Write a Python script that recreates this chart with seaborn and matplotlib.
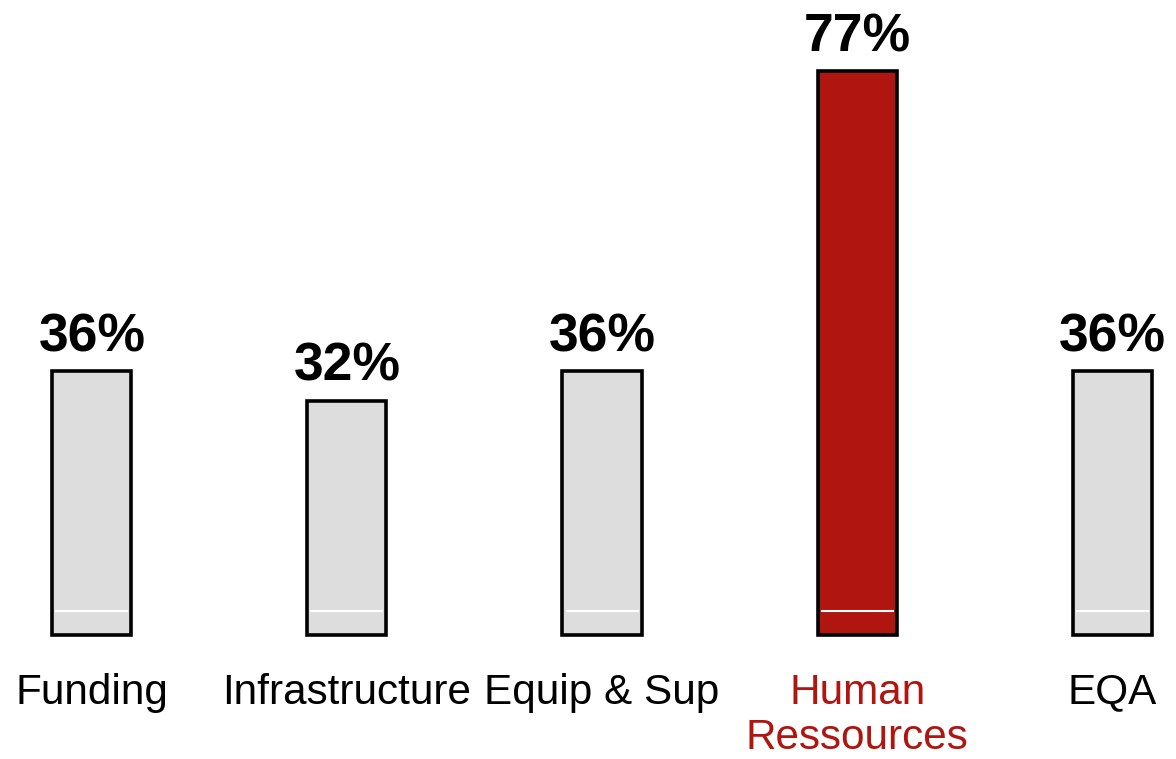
import matplotlib
matplotlib.use("Agg")
import matplotlib.pyplot as plt
import seaborn as sns
import pandas as pd

categories = ["Funding", "Infrastructure", "Equip & Sup", "Human\nRessources", "EQA"]
values = [36, 32, 36, 77, 36]
highlight = "Human\nRessources"

gray = "#dddddd"
red = "#b0150f"

sns.set_theme(style="white")
plt.rcParams["font.family"] = ["Liberation Sans", "DejaVu Sans"]

df = pd.DataFrame({"category": categories, "value": values})
colors = [red if c == highlight else gray for c in categories]

bar_width = 0.31

fig = plt.figure(figsize=(11.76, 7.59), dpi=100)
ax = fig.add_axes([0, 110 / 759, 1, 649 / 759])

sns.barplot(data=df, x="category", y="value", hue="category", palette=colors,
            legend=False, width=bar_width, edgecolor="black", linewidth=2.6,
            saturation=1, ax=ax)

ax.set_xlim(-0.36, 4.25)
ax.set_ylim(-1.91, 86.7)

# thin white rule across each bar near its base
for i in range(len(categories)):
    ax.hlines(3.3, i - bar_width / 2 + 0.012, i + bar_width / 2 - 0.012,
              color="white", linewidth=1.5, zorder=5)

for i, v in enumerate(values):
    ax.text(i, v + 1.2, f"{v}%", ha="center", va="bottom",
            fontsize=38.5, fontweight="bold", color="black")

ax.set_xlabel("")
ax.set_ylabel("")
ax.set_yticks([])
ax.tick_params(axis="x", length=0, pad=17, labelsize=30.4, labelcolor="black")
for lbl in ax.get_xticklabels():
    lbl.set_linespacing(1.18)
    if lbl.get_text() == highlight:
        lbl.set_color(red)
sns.despine(ax=ax, left=True, bottom=True, top=True, right=True)

fig.savefig("out.png", dpi=100)
